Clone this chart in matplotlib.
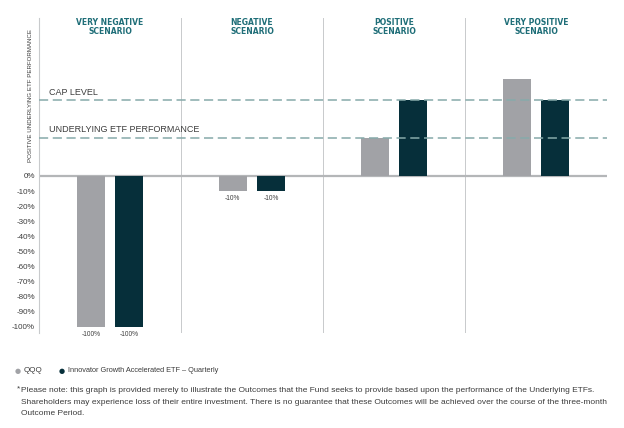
import matplotlib
matplotlib.use("Agg")
import matplotlib.pyplot as plt

# data
scenarios = ["VERY NEGATIVE\nSCENARIO", "NEGATIVE\nSCENARIO",
             "POSITIVE\nSCENARIO", "VERY POSITIVE\nSCENARIO"]
qqq = [-100, -10, 25, 64]
fund = [-100, -10, 50, 50]
qqq_labels = ["-100%", "-10%", "", ""]
fund_labels = ["-100%", "-10%", "", ""]
cap_level = 50
underlying_level = 25
yticks = [0, -10, -20, -30, -40, -50, -60, -70, -80, -90, -100]
series_names = ["QQQ", "Innovator Growth Accelerated ETF \u2013 Quarterly"]

plt.rcParams["font.family"] = ["Liberation Sans", "DejaVu Sans"]

GRAY = "#a1a2a6"
DARK = "#062f3a"
TEAL = "#1f6e78"
DASH = "#86aaaa"
LINE = "#c8cacc"
TXT = "#3c3c3c"

fig = plt.figure(figsize=(6.24, 4.28), dpi=100)
ax = fig.add_axes([39 / 624, 1 - 333 / 428, 568 / 624, 315 / 428])

xs = [i + 0.5 for i in range(len(scenarios))]
off, w = 0.135, 0.2
b1 = ax.bar([x - off for x in xs], qqq, width=w, color=GRAY, zorder=2)
b2 = ax.bar([x + off for x in xs], fund, width=w, color=DARK, zorder=2)

for bars, labs in ((b1, qqq_labels), (b2, fund_labels)):
    for bar, lab in zip(bars, labs):
        if lab:
            ax.annotate(lab, (bar.get_x() + bar.get_width() / 2, bar.get_height()),
                        xytext=(0, -5.5), textcoords="offset points",
                        ha="center", va="center", fontsize=4.8, color=TXT)

ax.axhline(cap_level, color=DASH, lw=1.1, ls=(0, (6, 3)), zorder=3)
ax.axhline(underlying_level, color=DASH, lw=1.1, ls=(0, (6, 3)), zorder=3)
ax.axhline(0, color="#b4b6b8", lw=1.6, zorder=1)
for i in range(1, len(scenarios)):
    ax.axvline(i, color=LINE, lw=0.7, zorder=0)

ax.text(0.07, cap_level + 2.5, "CAP LEVEL", fontsize=6.5, color=TXT, va="bottom")
ax.text(0.07, underlying_level + 2.5, "UNDERLYING ETF PERFORMANCE", fontsize=6.5,
        color=TXT, va="bottom")

for x, s in zip(xs, scenarios):
    ax.text(x, 0.972, s, transform=ax.get_xaxis_transform(), ha="center", va="center",
            fontsize=5.5, fontweight="bold", color=TEAL, linespacing=0.95,
            family="DejaVu Sans")

ax.set_xlim(0, 4)
ax.set_ylim(-104, 104.6)
ax.set_yticks(yticks)
ax.set_yticklabels([f"{t}%" for t in yticks], fontsize=5.8, color=TXT)
ax.set_xticks([])
ax.tick_params(axis="y", length=0, pad=3)
for s in ["top", "right", "bottom"]:
    ax.spines[s].set_visible(False)
ax.spines["left"].set_color(LINE)
ax.spines["left"].set_linewidth(0.8)

fig.text(31 / 624, 1 - 95 / 428, "POSITIVE UNDERLYING ETF PERFORMANCE", rotation=90,
         ha="center", va="center", fontsize=4.4, color=TXT)

# legend
fig.text(18 / 624, 1 - 371 / 428, "\u25cf", color=GRAY, fontsize=5, ha="center", va="center",
         family="DejaVu Sans")
fig.text(24 / 624, 1 - 371 / 428, series_names[0], color=TXT, fontsize=5.8, va="center")
fig.text(62 / 624, 1 - 371 / 428, "\u25cf", color=DARK, fontsize=5, ha="center", va="center",
         family="DejaVu Sans")
fig.text(68 / 624, 1 - 371 / 428, series_names[1], color=TXT, fontsize=5.3, va="center")

note = ("Please note: this graph is provided merely to illustrate the Outcomes that the Fund seeks "
        "to provide based upon the performance of the Underlying ETFs.\n"
        "Shareholders may experience loss of their entire investment. There is no guarantee that "
        "these Outcomes will be achieved over the course of the three-month\n"
        "Outcome Period.")
fig.text(17 / 624, 1 - 389 / 428, "*", fontsize=6, color=TXT, va="center")
fig.text(21 / 624, 1 - 387 / 428, note, fontsize=6.0, color=TXT, va="top", linespacing=1.9)

fig.savefig("out.png", dpi=100)
